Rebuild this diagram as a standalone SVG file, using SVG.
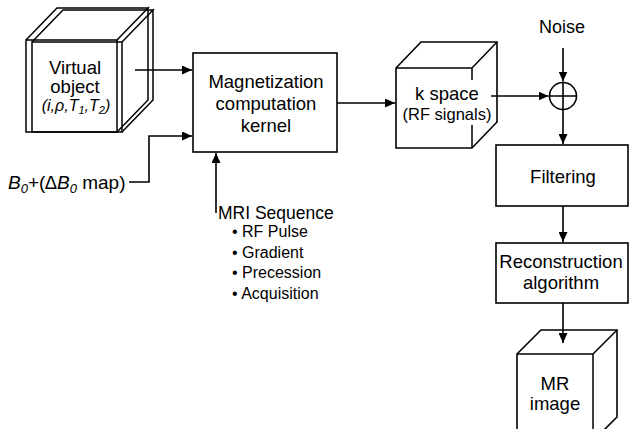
<svg xmlns="http://www.w3.org/2000/svg" width="629" height="429" viewBox="0 0 629 429">
  <style>
    .ln { fill: none; stroke: #000; stroke-width: 1.6; }
    .box { fill: #fff; stroke: #000; stroke-width: 1.6; }
    .wire { fill: none; stroke: #000; stroke-width: 1.5; stroke-linejoin: miter; }
    text { font-family: "Liberation Sans", Arial, sans-serif; fill: #000; }
    .lbl { font-size: 18.5px; text-anchor: middle; }
    .it { font-style: italic; }
  </style>
  <defs>
    <marker id="arrow" markerUnits="userSpaceOnUse" markerWidth="11" markerHeight="9" refX="10" refY="4.5" orient="auto">
      <path d="M0,0 L10,4.5 L0,9 z" fill="#000"/>
    </marker>
  </defs>
  <rect width="629" height="429" fill="#fff"/>

  <!-- Virtual object: two overlapping wireframe cubes -->
  <g id="virtual-object">
    <g class="wire">
      <rect x="26" y="40" width="91" height="92"/>
      <path d="M26,40 L57,8 L148,8 L117,40 M117,40 L148,8 L148,100 L117,132"/>
      <rect x="32" y="42" width="90" height="90"/>
      <path d="M32,42 L63,10 L153,10 L122,42 M122,42 L153,10 L153,100 L122,132"/>
    </g>
    <text class="lbl" x="75" y="74">Virtual</text>
    <text class="lbl" x="75" y="93">object</text>
    <text class="it" x="76" y="111" font-size="16" text-anchor="middle">(i,ρ,T<tspan font-size="11" dy="3">1</tspan><tspan dy="-3">,T</tspan><tspan font-size="11" dy="3">2</tspan><tspan dy="-3">)</tspan></text>
  </g>

  <!-- Field input label -->
  <g id="b0-map">
    <text x="8" y="189" font-size="19"><tspan class="it">B</tspan><tspan class="it" font-size="13" dy="4">0</tspan><tspan dy="-4">+(</tspan><tspan class="it">∆B</tspan><tspan class="it" font-size="13" dy="4">0</tspan><tspan dy="-4"> map)</tspan></text>
  </g>

  <!-- Kernel -->
  <g id="kernel">
    <rect class="box" x="193" y="53" width="144" height="99"/>
    <text class="lbl" x="266" y="88">Magnetization</text>
    <text class="lbl" x="266" y="110">computation</text>
    <text class="lbl" x="266" y="131.5">kernel</text>
  </g>

  <!-- MRI sequence label -->
  <g id="mri-sequence">
    <text x="218" y="219" font-size="17.5">MRI Sequence</text>
    <text x="232" y="237" font-size="16">• RF Pulse</text>
    <text x="232" y="257.5" font-size="16">• Gradient</text>
    <text x="232" y="278" font-size="16">• Precession</text>
    <text x="232" y="298.5" font-size="16">• Acquisition</text>
  </g>

  <!-- k space cube -->
  <g id="k-space">
    <path class="box" d="M396,68 L421,42 L497,42 L497,122 L472,148 L396,148 Z"/>
    <path class="wire" d="M396,68 L472,68 L497,42 M472,68 L472,148"/>
    <rect x="400" y="80" width="92" height="45" fill="#fff"/>
    <text class="lbl" x="447" y="99.5">k space</text>
    <text x="447" y="120" font-size="16.5" text-anchor="middle">(RF signals)</text>
  </g>

  <!-- Noise summing junction -->
  <g id="noise">
    <text x="562" y="33" font-size="18" text-anchor="middle">Noise</text>
  </g>
  <g id="sum">
    <circle class="box" cx="563" cy="96" r="13.5"/>
    <path class="ln" d="M549.5,96 H576.5 M563,82.5 V109.5"/>
  </g>

  <!-- Filtering -->
  <g id="filtering">
    <rect class="box" x="496" y="145" width="132" height="61"/>
    <text class="lbl" x="563" y="183">Filtering</text>
  </g>

  <!-- Reconstruction -->
  <g id="reconstruction">
    <rect class="box" x="496" y="243" width="132" height="60"/>
    <text class="lbl" x="561" y="268">Reconstruction</text>
    <text class="lbl" x="561" y="288.5">algorithm</text>
  </g>

  <!-- MR image cube -->
  <g id="mr-image">
    <path class="box" d="M517,354 L541,330 L617,330 L617,417 L593,441 L517,441 Z"/>
    <path class="wire" d="M517,354 L593,354 L617,330 M593,354 L593,441"/>
    <text class="lbl" x="555" y="389.5">MR</text>
    <text class="lbl" x="555" y="410">image</text>
  </g>

  <!-- Connectors -->
  <g id="connectors" class="ln">
    <path d="M135,70 H192" marker-end="url(#arrow)"/>
    <path d="M129,182 H149 V136 H192" marker-end="url(#arrow)"/>
    <path d="M216,213 V153" marker-end="url(#arrow)"/>
    <path d="M337,103 H395" marker-end="url(#arrow)"/>
    <path d="M491,96 H548.5" marker-end="url(#arrow)"/>
    <path d="M563,48 V81.5" marker-end="url(#arrow)"/>
    <path d="M563,109.5 V144" marker-end="url(#arrow)"/>
    <path d="M563,206 V242" marker-end="url(#arrow)"/>
    <path d="M563,303 V343" marker-end="url(#arrow)"/>
  </g>
</svg>
